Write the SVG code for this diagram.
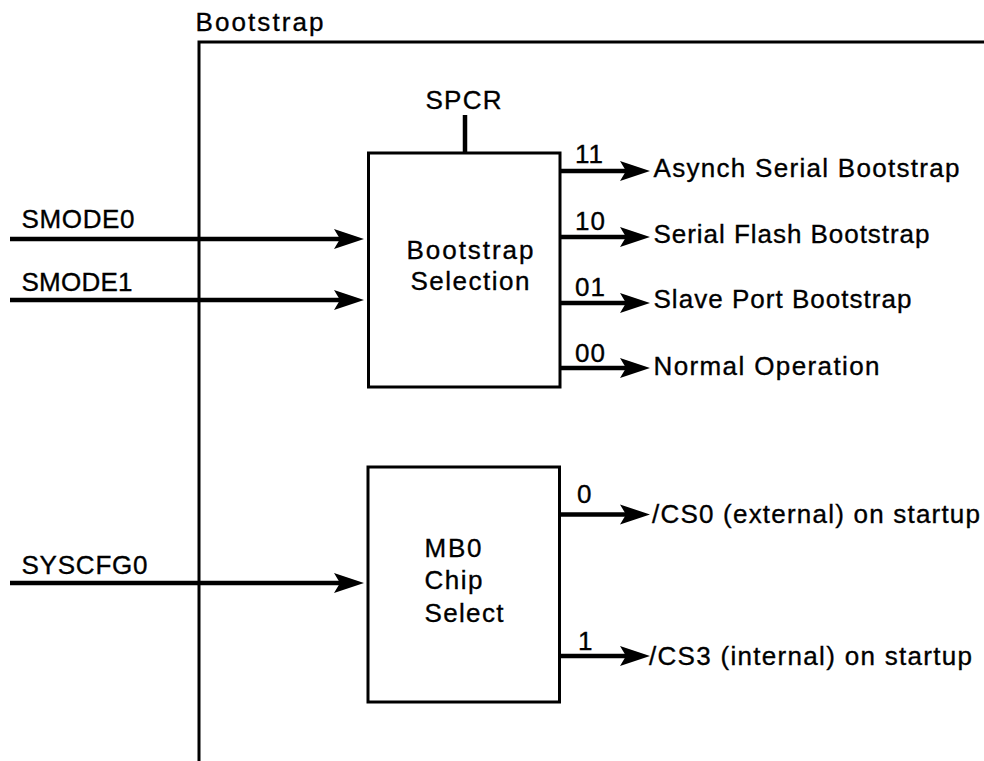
<svg xmlns="http://www.w3.org/2000/svg" width="984" height="761" viewBox="0 0 984 761">
<style>
text{font-family:"Liberation Sans",Arial,sans-serif;font-size:26px;fill:#000;stroke:#000;stroke-width:0.35}
.frame{fill:none;stroke:#000;stroke-width:3}
.box{fill:#fff;stroke:#000;stroke-width:3}
.wire{fill:none;stroke:#000;stroke-width:4.5}
</style>
<defs>
<marker id="arr" markerUnits="userSpaceOnUse" viewBox="-8 -11 34 22" refX="0" refY="0" markerWidth="34" markerHeight="22" orient="auto" overflow="visible">
<path d="M24,0 L-6,-10 L0,0 L-6,10 Z" fill="#000"/>
</marker>
</defs>
<rect width="984" height="761" fill="#fff"/>
<g id="frame">
<path class="frame" d="M199,761 V42 H984"/>
<text x="195.5" y="31" textLength="128" lengthAdjust="spacing">Bootstrap</text>
</g>
<g id="connectors">
<path class="wire" d="M10,239 H340" marker-end="url(#arr)"/>
<path class="wire" d="M10,300 H340" marker-end="url(#arr)"/>
<path class="wire" d="M10,583 H340" marker-end="url(#arr)"/>
<path class="wire" d="M465,115 V153"/>
<path class="wire" d="M560,171 H626" marker-end="url(#arr)"/>
<path class="wire" d="M560,237 H626" marker-end="url(#arr)"/>
<path class="wire" d="M560,303 H626" marker-end="url(#arr)"/>
<path class="wire" d="M560,368 H626" marker-end="url(#arr)"/>
<path class="wire" d="M560,514.5 H626" marker-end="url(#arr)"/>
<path class="wire" d="M560,656 H626" marker-end="url(#arr)"/>
</g>
<g id="inputs">
<text x="21.5" y="228" textLength="113" lengthAdjust="spacing">SMODE0</text>
<text x="21.5" y="291" textLength="111" lengthAdjust="spacing">SMODE1</text>
<text x="21.5" y="574" textLength="126" lengthAdjust="spacing">SYSCFG0</text>
<text x="425.5" y="109" textLength="76" lengthAdjust="spacing">SPCR</text>
</g>
<g id="bootstrap-selection">
<rect class="box" x="368.5" y="153" width="191.5" height="234"/>
<text x="406.5" y="259" textLength="127" lengthAdjust="spacing">Bootstrap</text>
<text x="410.5" y="290" textLength="119" lengthAdjust="spacing">Selection</text>
</g>
<g id="bootstrap-outputs">
<text x="575" y="163" letter-spacing="1">11</text>
<text x="575" y="230" letter-spacing="1">10</text>
<text x="575" y="296" letter-spacing="1">01</text>
<text x="575" y="362" letter-spacing="1">00</text>
<text x="653.5" y="177" textLength="306" lengthAdjust="spacing">Asynch Serial Bootstrap</text>
<text x="653.5" y="243" textLength="276" lengthAdjust="spacing">Serial Flash Bootstrap</text>
<text x="653.5" y="308" textLength="258" lengthAdjust="spacing">Slave Port Bootstrap</text>
<text x="653.5" y="375" textLength="226" lengthAdjust="spacing">Normal Operation</text>
</g>
<g id="mb0-chip-select">
<rect class="box" x="368" y="467" width="191.5" height="235"/>
<text x="424.5" y="557" textLength="57" lengthAdjust="spacing">MB0</text>
<text x="424.5" y="589" textLength="58" lengthAdjust="spacing">Chip</text>
<text x="424.5" y="622" textLength="79" lengthAdjust="spacing">Select</text>
</g>
<g id="mb0-outputs">
<text x="577" y="503">0</text>
<text x="578" y="650">1</text>
<text x="652" y="523" textLength="328" lengthAdjust="spacing">/CS0 (external) on startup</text>
<text x="649" y="665" textLength="323" lengthAdjust="spacing">/CS3 (internal) on startup</text>
</g>
</svg>
